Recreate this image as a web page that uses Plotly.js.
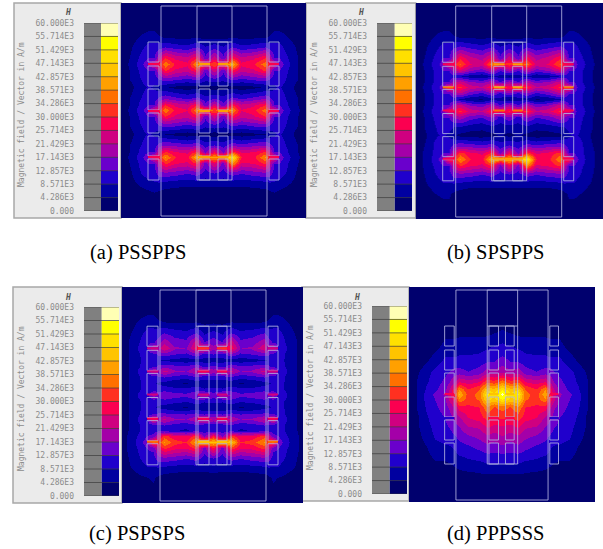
<!DOCTYPE html>
<html><head><meta charset="utf-8">
<script src="https://cdn.plot.ly/plotly-3.0.1.min.js"></script>
<style>
html,body{margin:0;padding:0;background:#fff}
#g{width:603px;height:549px}
.heatmaplayer image{filter:blur(0.6px)}
.shapelayer path{filter:blur(0.35px)}
.ytick text{filter:blur(0.25px)}
</style></head><body><div id="g"></div>
<script>
// Level boundaries of the scale, kA/m, and their printed labels
const levelLabels=["0.000","4.286E3","8.571E3","12.857E3","17.143E3","21.429E3","25.714E3","30.000E3","34.286E3","38.571E3","42.857E3","47.143E3","51.429E3","55.714E3","60.000E3"];
const levelValues=[0,4.286,8.571,12.857,17.143,21.429,25.714,30,34.286,38.571,42.857,47.143,51.429,55.714,60];
const bandColors=["#00006e","#0000a0","#2000cc","#6a00cc","#a400a8","#cf0080","#fb0050","#ff3020","#ff7000","#ffa000","#ffc400","#ffe000","#ffff00","#ffffb4"];
const captions=["(a) PSSPPS","(b) SPSPPS","(c) PSPSPS","(d) PPPSSS"];

// Sample positions across the window (common to a, b, c)
const xCols=[-40,-30,-22,-13,-7.5,-2,4,14,26,36,43.5,53,62,71,80,92,104,108,113,118,126,135,145];
const xColsD=[-54,-44,-34,-24,-13,-7.5,-2,4,14,26,36,43.5,53,62,71,80,92,102,108,113,118,130,140,150,160];

const yA=[0,22,32,44,55,61,67,76,84,95,102,107,113,122,131,142,149,154,160,170,180,190,215];
const zA=[
[1,1,1,1,1,1,1,1,1,1,1,1,1,1,1,1,1,1,1,1,1,1,1],
[1,1,1,2,2,1,1,1,1,1,1,1,1,1,1,1,1,1,2,2,1,1,1],
[1,2,4,6,6,4,2,2,2,2,2,2,2,2,2,2,2,4,6,6,4,2,1],
[1,4,7,10,10,11,13,11,10,13,9,11,9,13,10,11,13,11,10,10,7,4,1],
[1,5,9,13,13,22,30,25,23,30,14,24,14,30,23,25,30,22,13,13,9,5,1],
[1,6,10,17,24,30,38,29,27,40,34,34,34,44,27,29,37,30,24,16,10,5,1],
[1,5,9,13,13,22,31,25,23,30,14,24,14,30,23,25,31,22,13,13,9,5,1],
[1,5,8,11,10,13,15,14,12,14,10,12,10,14,12,14,15,13,10,11,8,5,1],
[1,3,7,9,8,6,5,3,2,3,3,2,3,3,2,3,5,6,8,9,7,3,1],
[1,5,8,11,11,14,16,14,12,14,10,12,10,14,12,14,16,14,11,11,8,5,1],
[1,5,9,13,13,22,30,25,23,30,14,25,14,30,23,25,30,22,13,13,9,5,1],
[1,6,10,16,26,30,38,28,26,39,36,34,36,40,26,28,37,30,26,16,10,6,1],
[1,5,9,13,13,22,30,25,23,29,14,25,14,29,23,25,30,22,13,13,9,5,1],
[1,5,8,11,10,13,15,14,12,14,10,12,10,14,12,14,15,13,10,11,8,5,1],
[1,3,7,9,8,6,4,3,2,3,3,2,3,3,2,3,4,6,8,9,7,3,1],
[1,5,8,11,11,15,17,16,14,16,11,13,11,16,14,16,17,15,11,11,8,5,1],
[1,5,9,13,13,24,31,26,25,32,16,28,16,33,25,26,31,24,13,13,9,5,1],
[1,6,10,17,28,31,39,30,28,44,40,40,40,52,30,28,39,31,28,16,10,6,1],
[1,5,9,13,13,24,31,26,25,31,15,27,15,40,25,26,31,24,13,13,9,5,1],
[1,4,8,11,11,15,16,15,13,15,11,13,11,15,13,15,16,15,11,11,8,4,1],
[1,3,5,7,8,8,7,6,6,6,6,6,6,6,6,6,7,8,8,7,5,3,1],
[1,1,2,3,4,3,2,2,1,1,1,1,1,1,1,2,2,3,4,3,2,1,1],
[1,1,1,1,1,1,1,1,1,1,1,1,1,1,1,1,1,1,1,1,1,1,1]];

const yB=[0,22,32,44,55,61,67,73,79,84,90,96,102,107,113,122,131,142,149,155,161,170,180,190,215];
const zB=[
[1,1,1,1,1,1,1,1,1,1,1,1,1,1,1,1,1,1,1,1,1,1,1],
[1,1,2,2,2,1,1,1,1,1,1,1,1,1,1,1,1,1,2,2,2,1,1],
[1,2,4,6,6,4,2,2,2,2,2,2,2,2,2,2,2,4,6,6,4,2,1],
[1,4,7,10,10,12,14,12,10,13,9,11,9,13,10,12,14,12,10,10,7,4,1],
[1,5,9,13,13,22,29,23,20,28,14,24,14,28,20,23,29,22,13,13,9,5,1],
[1,6,10,15,26,29,35,26,24,38,32,32,32,36,24,26,35,29,26,15,10,6,1],
[1,5,9,13,13,21,25,18,15,22,13,20,13,22,15,18,25,21,13,13,9,5,1],
[1,5,9,11,10,11,9,6,5,8,7,4,7,8,5,6,9,11,10,11,9,5,1],
[1,5,9,13,13,21,24,18,16,21,13,20,13,21,16,18,24,21,13,13,9,5,1],
[1,6,10,15,32,28,31,24,22,30,34,28,34,30,22,24,31,28,32,15,10,6,1],
[1,5,9,13,13,19,21,15,12,17,12,16,12,17,12,15,21,19,13,13,9,5,1],
[1,5,9,11,10,10,8,5,4,7,7,4,7,7,4,5,8,10,10,11,9,5,1],
[1,5,9,13,13,20,23,17,15,21,13,20,13,21,15,17,23,20,13,13,9,5,1],
[1,6,10,14,26,27,31,24,22,30,28,30,28,31,22,24,31,27,26,14,10,6,1],
[1,5,9,13,13,18,20,15,13,18,11,17,11,18,13,15,20,18,13,13,9,5,1],
[1,5,8,11,10,9,9,7,6,8,7,7,7,8,6,7,9,9,10,11,8,5,1],
[1,4,8,9,8,5,3,2,2,3,5,3,5,3,2,2,3,5,8,9,8,4,1],
[1,5,9,11,11,15,17,16,14,16,11,14,11,16,14,16,17,15,11,11,9,5,1],
[1,6,9,13,13,24,32,27,25,32,16,28,16,33,25,27,32,24,13,13,9,6,1],
[1,6,10,16,31,31,39,30,28,45,42,42,42,53,30,28,38,31,31,16,10,6,1],
[1,6,9,13,13,24,31,27,25,32,16,28,16,40,25,27,31,24,13,13,9,6,1],
[1,5,8,11,11,15,16,15,13,15,11,13,11,15,13,15,16,15,11,11,8,5,1],
[1,4,6,8,8,8,7,6,6,6,6,6,6,6,6,6,7,8,8,8,6,4,1],
[1,2,4,5,5,3,2,1,1,1,1,1,1,1,1,1,2,3,5,5,4,2,1],
[1,1,1,1,1,1,1,1,1,1,1,1,1,1,1,1,1,1,1,1,1,1,1]];

const yC=[0,22,32,46,55,61,67,73,79,84,90,96,102,107,113,119,125,131,137,142,148,154,160,170,180,190,215];
const zC=[
[1,1,1,1,1,1,1,1,1,1,1,1,1,1,1,1,1,1,1,1,1,1,1],
[1,1,1,2,2,1,1,1,1,1,1,1,1,1,1,1,1,1,2,2,1,1,1],
[1,2,4,6,6,4,2,2,2,2,2,2,2,2,2,2,2,4,6,6,4,2,1],
[1,4,7,10,10,11,13,11,10,13,8,10,8,13,10,11,13,11,10,10,7,4,1],
[1,5,8,12,12,15,20,15,14,24,13,16,13,24,14,15,20,15,12,12,8,5,1],
[1,5,9,12,23,20,25,18,17,28,29,18,29,29,17,18,25,20,23,12,9,5,1],
[1,5,8,11,11,14,15,13,12,16,11,13,11,16,12,13,15,14,11,11,8,5,1],
[1,5,8,10,10,9,8,7,6,7,7,6,7,7,6,7,8,9,10,10,8,5,1],
[1,5,8,11,11,14,15,14,13,16,11,14,11,16,13,14,15,14,11,11,8,5,1],
[1,5,9,12,23,18,23,18,17,22,25,19,25,22,17,18,23,18,23,12,9,5,1],
[1,5,8,11,10,12,13,11,10,12,10,11,10,12,10,11,13,12,10,11,8,5,1],
[1,5,8,10,9,8,7,5,4,6,6,5,6,6,4,5,7,8,9,10,8,5,1],
[1,5,8,10,10,11,11,10,10,11,9,10,9,11,10,10,11,11,10,10,8,5,1],
[1,5,9,11,20,15,17,15,14,17,21,15,21,17,14,15,17,15,20,11,9,5,1],
[1,5,8,10,10,10,11,10,9,11,9,10,9,11,9,10,11,10,10,10,8,5,1],
[1,5,8,10,9,8,7,5,4,6,6,5,6,6,4,5,7,8,9,10,8,5,1],
[1,5,8,11,11,13,13,12,12,13,10,12,10,13,12,12,13,13,11,11,8,5,1],
[1,5,9,12,27,19,22,18,17,21,27,20,27,21,17,18,22,19,27,12,9,5,1],
[1,5,8,11,11,12,13,11,10,12,10,11,10,12,10,11,13,12,11,11,8,5,1],
[1,5,8,11,11,11,10,9,8,10,10,9,10,10,8,9,10,11,11,11,8,5,1],
[1,6,9,13,14,24,32,27,26,32,16,30,16,32,26,27,32,24,14,13,9,6,1],
[1,6,10,16,35,32,39,32,30,42,45,44,45,46,30,32,39,32,35,16,10,6,1],
[1,6,9,13,14,24,31,27,26,31,15,29,15,32,26,27,31,24,14,13,9,6,1],
[1,5,8,11,11,15,16,15,13,15,11,13,11,15,13,15,16,15,11,11,8,5,1],
[1,4,6,8,8,8,7,6,6,6,6,7,6,6,6,6,7,8,8,8,6,4,1],
[1,1,3,4,5,3,2,2,1,1,1,1,1,1,1,2,2,3,5,4,3,1,1],
[1,1,1,1,1,1,1,1,1,1,1,1,1,1,1,1,1,1,1,1,1,1,1]];

const yD=[0,30,45,60,75,85,95,102,107,112,120,130,140,150,160,170,180,190,200,215];
const zD=[
[1,1,1,1,1,1,1,1,1,1,1,1,1,1,1,1,1,1,1,1,1,1,1,1,1],
[1,1,1,1,1,1,1,1,1,1,1,1,1,1,1,1,1,1,1,1,1,1,1,1,1],
[1,1,1,1,3,3,3,3,3,3,3,4,5,4,3,3,3,3,3,3,3,1,1,1,1],
[1,1,1,3,6,6,6,7,7,7,8,9,10,9,8,7,7,7,6,6,6,3,1,1,1],
[1,2,4,7,10,10,10,10,10,11,13,13,15,13,13,11,10,10,10,10,10,7,4,2,1],
[1,4,7,10,12,13,15,15,13,15,20,19,21,19,20,15,13,15,15,13,12,10,7,4,1],
[1,5,8,11,14,17,21,26,24,26,34,32,38,32,34,26,24,26,21,17,14,11,8,5,1],
[1,5,9,12,16,21,28,38,30,34,46,44,50,44,46,34,30,38,28,21,16,12,9,5,1],
[1,5,10,14,18,24,31,43,32,36,52,48,58,48,52,36,32,42,31,24,18,14,10,5,1],
[1,5,10,13,17,22,28,38,32,35,48,46,52,46,48,35,32,38,28,22,17,13,10,5,1],
[1,5,9,12,15,18,22,28,29,30,38,34,36,34,38,30,29,28,22,18,15,12,9,5,1],
[1,4,8,11,13,15,18,21,26,28,32,30,31,30,32,28,26,21,18,15,13,11,8,4,1],
[1,4,7,10,12,13,15,17,21,22,26,24,25,24,26,22,21,17,15,13,12,10,7,4,1],
[1,3,6,9,10,11,12,14,16,18,20,19,21,19,20,18,16,14,12,11,10,9,6,3,1],
[1,2,4,7,8,8,9,11,12,14,16,15,16,15,16,14,12,11,9,8,8,7,4,2,1],
[1,1,3,5,5,6,7,8,9,10,11,11,11,11,11,10,9,8,7,6,5,5,3,1,1],
[1,1,1,3,3,3,4,5,6,6,7,7,7,7,7,6,6,5,4,3,3,3,1,1,1],
[1,1,1,1,1,1,1,2,2,3,3,3,3,3,3,3,2,2,1,1,1,1,1,1,1],
[1,1,1,1,1,1,1,1,1,1,1,1,1,1,1,1,1,1,1,1,1,1,1,1,1],
[1,1,1,1,1,1,1,1,1,1,1,1,1,1,1,1,1,1,1,1,1,1,1,1,1]];

// Geometry drawn over the field, in window units
const tank=[0,106,3,213], core=[36,71,3,177];
const coilCols=[[-13,-2],[38,49],[57,67],[108,118]];
const discRows=[[39,59],[63,83],[86,107],[110,130],[133,153],[156,177]];

// Field value seen in the gap between discs: outer winding, inner winding
const gapsA=[[61,27,41],[108,27,40],[154,29,42]];
const gapsB=[[61,28,40],[84,36,40],[107,26,38],[155,29,42]];
const gapsC=[[61,24,30],[84,23,27],[107,22,24],[131,27,28],[154,36,46]];
const gapsD=[[107,29,44],[131,10,27]];

const W=603,H=549;
// Pixel frames: field window, grey box, scale bar, text anchors
const P=[
 {f:[121,306,3,218],r:[-40,145],b:[14,121,3,218],s:[84,118,23,211],tx:22,ty:115,hx:68,hy:13,cx:138,cy:252,xs:xCols,ys:yA,z:zA,g:gapsA},
 {f:[415.7,603,3,219],r:[-40,147.3],b:[306,415.7,3,218],s:[377,412,23,211],tx:315,ty:115,hx:361,hy:13,cx:495,cy:252,xs:xCols,ys:yB,z:zB,g:gapsB},
 {f:[122,303,287,503],r:[-38,143],b:[13,122,287,503],s:[84,119,307,496],tx:21,ty:399,hx:68,hy:297,cx:137,cy:533,xs:xCols,ys:yC,z:zC,g:gapsC},
 {f:[409,595,287,502],r:[-54,160],b:[302,409,287,501],s:[372,407,306,494],tx:310,ty:398,hx:357,hy:297,cx:495,cy:533,xs:xColsD,ys:yD,z:zD,g:gapsD}
];

const n=bandColors.length;
const colorscale=[];
bandColors.forEach((c,i)=>{colorscale.push([i/n,c]);colorscale.push([(i+1)/n,c]);});
const colorOf=v=>bandColors[Math.min(n-1,Math.max(0,Math.floor(v/60*n)))];
const px=v=>v/W, py=v=>1-v/H;

const layout={width:W,height:H,margin:{l:0,r:0,t:0,b:0},paper_bgcolor:"#fff",plot_bgcolor:"#00006e",showlegend:false,shapes:[],annotations:[]};
const traces=[];
const hide={showgrid:false,zeroline:false,showticklabels:false,ticks:"",showline:false,fixedrange:true};
const wire="rgba(178,178,225,0.85)";
const mono="'DejaVu Sans Mono',monospace";

P.forEach((p,i)=>{
  const k=i+1, ks=i+5;
  const xa=k===1?"xaxis":"xaxis"+k, ya=k===1?"yaxis":"yaxis"+k;
  const xr=k===1?"x":"x"+k, yr=k===1?"y":"y"+k;
  layout[xa]=Object.assign({},hide,{domain:[px(p.f[0]),px(p.f[1])],range:p.r,anchor:yr});
  layout[ya]=Object.assign({},hide,{domain:[py(p.f[3]),py(p.f[2])],range:[215,0],anchor:xr});
  traces.push({type:"heatmap",x:p.xs,y:p.ys,z:p.z,xaxis:xr,yaxis:yr,zmin:0,zmax:60,colorscale,zsmooth:"best",showscale:false,hoverinfo:"skip"});
  // scale bar
  layout["xaxis"+ks]=Object.assign({},hide,{domain:[px(p.s[0]),px(p.s[1])],range:[0,2],anchor:"y"+ks});
  layout["yaxis"+ks]={domain:[py(p.s[3]),py(p.s[2])],range:[0,60],anchor:"x"+ks,showgrid:false,zeroline:false,ticks:"",showline:false,fixedrange:true,
    tickmode:"array",tickvals:levelValues,ticktext:levelLabels,ticklabelstandoff:9,tickfont:{family:mono,size:8,color:"#8c8c8c"}};
  traces.push({type:"heatmap",x:[1.5],y:levelValues.slice(0,n).map((v,j)=>(v+levelValues[j+1])/2),z:levelValues.slice(0,n).map((v,j)=>[(v+levelValues[j+1])/2]),
    xaxis:"x"+ks,yaxis:"y"+ks,zmin:0,zmax:60,colorscale,showscale:false,hoverinfo:"skip"});
  // grey box
  layout.shapes.push({type:"rect",xref:"paper",yref:"paper",x0:px(p.b[0]),x1:px(p.b[1]),y0:py(p.b[3]),y1:py(p.b[2]),fillcolor:"#ebebeb",line:{color:"#a8a8a8",width:1.5},layer:"below"});
  layout.shapes.push({type:"rect",xref:"x"+ks,yref:"y"+ks,x0:0,x1:1,y0:0,y1:60,fillcolor:"#808080",line:{width:0},layer:"above"});
  levelValues.forEach(v=>layout.shapes.push({type:"line",xref:"x"+ks,yref:"y"+ks,x0:0,x1:2,y0:v,y1:v,line:{color:"rgba(60,60,60,0.7)",width:1}}));
  // structure
  const rect=(x0,x1,y0,y1)=>layout.shapes.push({type:"rect",xref:xr,yref:yr,x0,x1,y0,y1,line:{color:wire,width:1},fillcolor:"rgba(0,0,0,0)"});
  rect(tank[0],tank[1],tank[2],tank[3]);
  rect(core[0],core[1],core[2],core[3]);
  layout.shapes.push({type:"line",xref:xr,yref:yr,x0:core[0],x1:core[1],y0:39,y1:39,line:{color:wire,width:1}});
  coilCols.forEach(c=>discRows.forEach(d=>rect(c[0],c[1],d[0],d[1])));
  p.g.forEach(g=>coilCols.forEach((c,j)=>{
    const v=(j===0||j===3)?g[1]:g[2];
    layout.shapes.push({type:"line",xref:xr,yref:yr,x0:c[0],x1:c[1],y0:g[0],y1:g[0],line:{color:colorOf(v),width:2}});
  }));
  // text
  layout.annotations.push({xref:"paper",yref:"paper",x:px(p.tx),y:py(p.ty),xanchor:"center",yanchor:"middle",text:"Magnetic field / Vector in A/m",textangle:-90,showarrow:false,font:{family:mono,size:8,color:"#8c8c8c"}});
  layout.annotations.push({xref:"paper",yref:"paper",x:px(p.hx),y:py(p.hy),xanchor:"center",yanchor:"middle",text:"<b><i>H</i></b>",showarrow:false,font:{family:mono,size:8,color:"#555"}});
  layout.annotations.push({xref:"paper",yref:"paper",x:px(p.cx),y:py(p.cy),xanchor:"center",yanchor:"middle",text:captions[i],showarrow:false,font:{family:"'Liberation Serif',serif",size:20.5,color:"#000"}});
});
Plotly.newPlot("g",traces,layout,{staticPlot:true,displayModeBar:false});
</script></body></html>
